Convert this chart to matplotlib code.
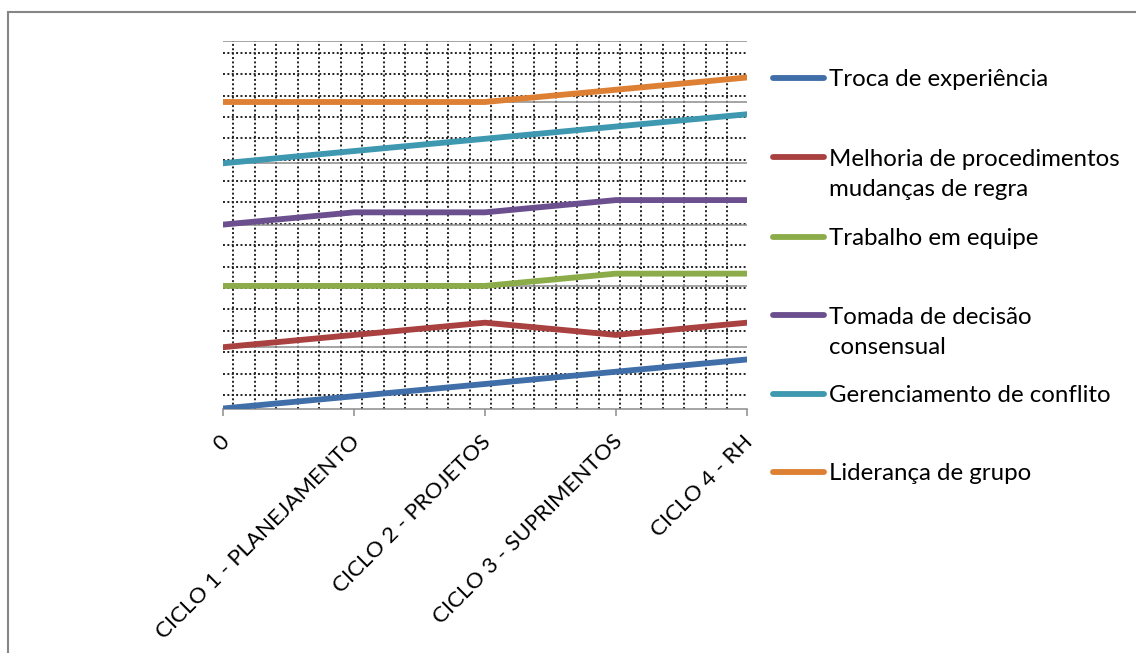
import numpy as np
import matplotlib.pyplot as plt
from matplotlib.lines import Line2D
from matplotlib.patches import Rectangle

plt.rcParams['font.family'] = ['Lato', 'DejaVu Sans']

# categories (x axis) and one value list per series
ciclos = ['0', 'CICLO 1 - PLANEJAMENTO', 'CICLO 2 - PROJETOS',
          'CICLO 3 - SUPRIMENTOS', 'CICLO 4 - RH']

troca = [0.0, 0.2, 0.4, 0.6, 0.8]
melhoria = [1.0, 1.2, 1.4, 1.2, 1.4]
trabalho = [2.0, 2.0, 2.0, 2.2, 2.2]
tomada = [3.0, 3.2, 3.2, 3.4, 3.4]
gerenciamento = [4.0, 4.2, 4.4, 4.6, 4.8]
lideranca = [5.0, 5.0, 5.0, 5.2, 5.4]

nomes = ['Troca de experiência',
         'Melhoria de procedimentos\nmudanças de regra',
         'Trabalho em equipe',
         'Tomada de decisão\nconsensual',
         'Gerenciamento de conflito',
         'Liderança de grupo']
cores = ['#3F6EA8', '#A8413F', '#8BAC48', '#6B4F8E', '#3E98B0', '#DD8033']
series = [troca, melhoria, trabalho, tomada, gerenciamento, lideranca]

W, H = 1136, 653
fig = plt.figure(figsize=(W / 100, H / 100), dpi=100)
ax = fig.add_axes([223 / W, 1 - 408.5 / H, 524 / W, 367.8 / H])

x = np.arange(len(ciclos))
ax.set_xlim(0, len(ciclos) - 1)
ax.set_ylim(0, 6)

# dotted pattern in the plot area background
pontilhado = dict(color='#222222', lw=1.4, ls=(0, (1.0, 1.25)), zorder=1)
for yy in np.arange(0.22, 5.9, 0.349):
    ax.axhline(yy, **pontilhado)
for xx in np.arange(0.0786, 3.9, 0.164):
    ax.axvline(xx, **pontilhado)

# major gridlines
for yy in range(1, 7):
    ax.axhline(yy, color='#8C8C8C', lw=1.1, zorder=2)

for vals, cor in zip(series, cores):
    ax.plot(x, vals, color=cor, lw=4.2, solid_capstyle='round',
            solid_joinstyle='round', zorder=3)

for s in ['left', 'right', 'top']:
    ax.spines[s].set_visible(False)
ax.spines['bottom'].set_color('#8C8C8C')
ax.spines['bottom'].set_linewidth(1.1)
ax.set_yticks([])
ax.set_xticks(x)
ax.set_xticklabels([])
ax.tick_params(axis='x', length=5, width=1.1, color='#8C8C8C')

for xi, lab in zip(x, ciclos):
    ax.annotate(lab, xy=(xi, 0), xycoords='data', xytext=(3, -30),
                textcoords='offset pixels', rotation=45, ha='right',
                va='center', rotation_mode='anchor', fontsize=16,
                color='black')

# legend drawn on the figure
leg_y = [78, 157, 237, 315, 394, 472]
for yy, nome, cor in zip(leg_y, nomes, cores):
    fig.add_artist(Line2D([773 / W, 824 / W], [1 - yy / H, 1 - yy / H],
                          color=cor, lw=4.2, solid_capstyle='round'))
    for i, linha in enumerate(nome.split('\n')):
        fig.text(829 / W, 1 - (yy + i * 31) / H, linha, fontsize=17.3,
                 va='center_baseline', ha='left', color='black')

# chart area border
fig.add_artist(Rectangle((8 / W, -0.1), 1.1, 1.1 - 12 / H,
                         transform=fig.transFigure, fill=False,
                         edgecolor='#868686', lw=1.5))

fig.savefig('out.png', dpi=100)
